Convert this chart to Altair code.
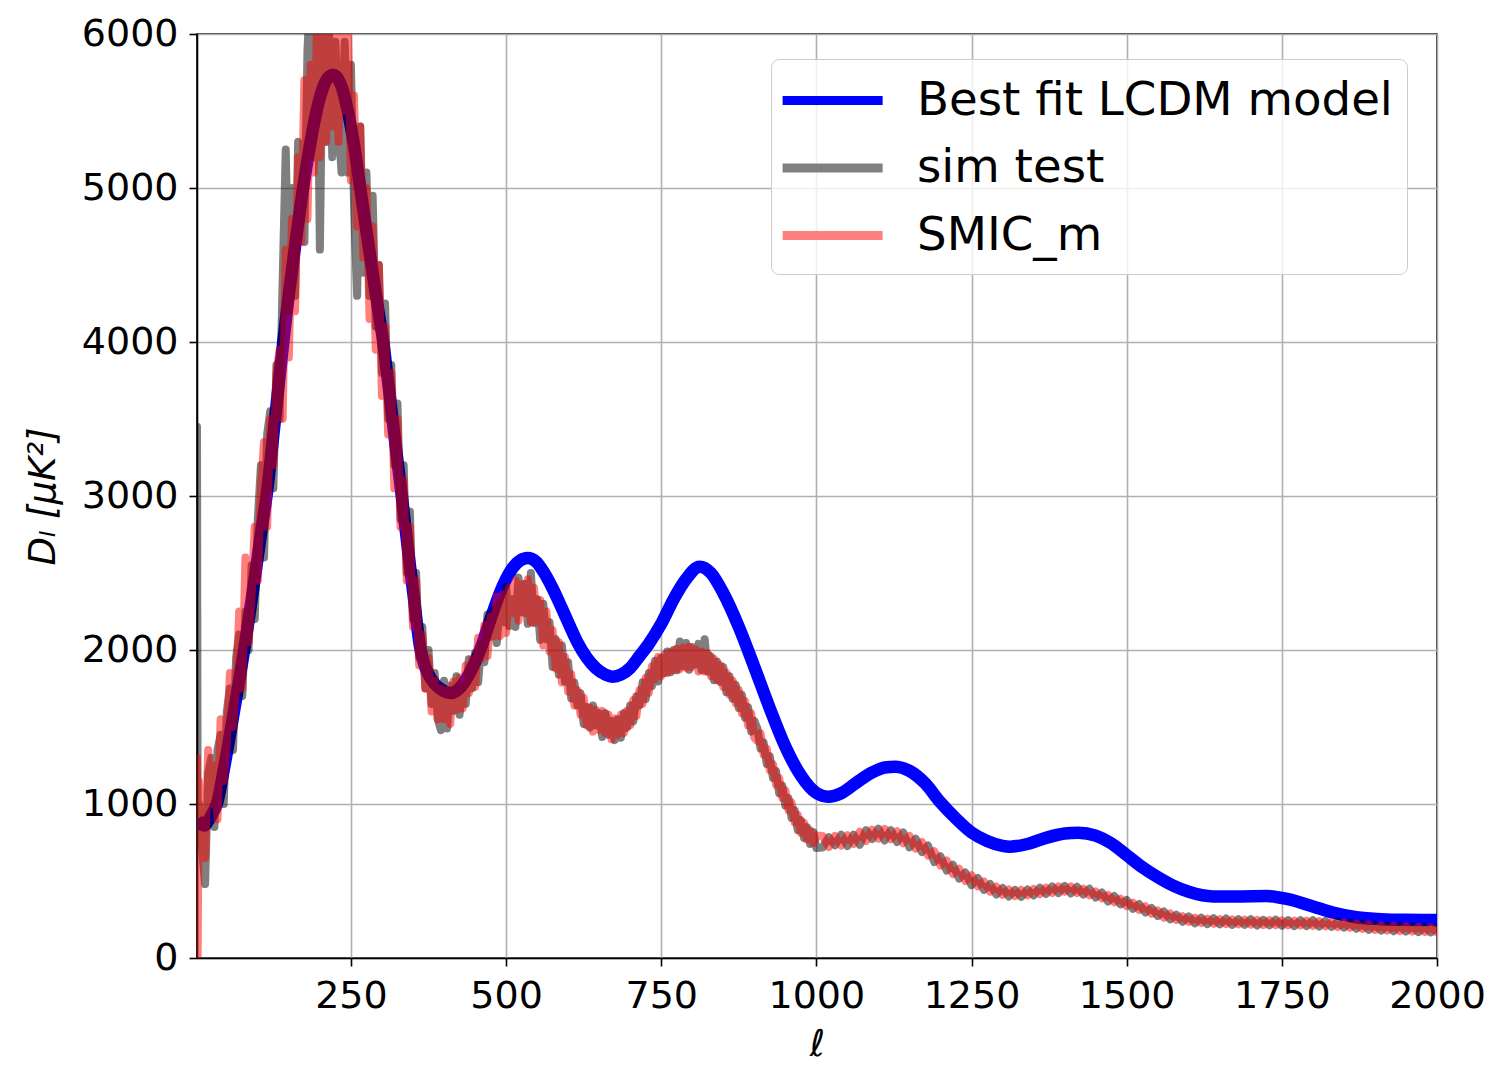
import altair as alt
import pandas as pd

# ---------------- data ----------------
series_names = ["Best fit LCDM model", "sim test", "SMIC_m"]

ell_model = [2, 8, 14, 20, 27, 34, 45, 56, 67, 78, 88, 98, 106, 114, 123, 132, 141, 150,
             160, 173, 185, 197, 209, 221, 233, 245, 255, 265, 275, 285, 294, 302, 312,
             322, 332, 342, 352, 361, 368, 374, 385, 395, 405, 412, 420, 430, 440, 450,
             460, 470, 480, 490, 500, 510, 522, 535, 548, 560, 575, 590, 600, 615, 630,
             645, 660, 672, 685, 700, 715, 730, 750, 770, 790, 812, 830, 850, 875, 900,
             925, 950, 975, 1000, 1019, 1040, 1065, 1090, 1110, 1127, 1150, 1175, 1200,
             1225, 1250, 1275, 1300, 1312, 1340, 1370, 1400, 1422, 1450, 1475, 1500,
             1525, 1550, 1575, 1600, 1639, 1680, 1726, 1760, 1800, 1832, 1870, 1910,
             1950, 2000]
D_model = [900, 870, 860, 890, 940, 1000, 1220, 1470, 1730, 2000, 2270, 2550, 2780, 3000,
           3320, 3660, 4000, 4310, 4620, 5000, 5300, 5540, 5690, 5735, 5680, 5500, 5280,
           5000, 4720, 4450, 4210, 4000, 3670, 3330, 3000, 2650, 2320, 2030, 1910, 1850,
           1780, 1745, 1725, 1720, 1735, 1775, 1840, 1920, 2020, 2140, 2260, 2370, 2460,
           2530, 2580, 2597, 2575, 2510, 2400, 2270, 2180, 2050, 1950, 1880, 1840, 1827,
           1840, 1883, 1960, 2040, 2170, 2330, 2460, 2541, 2500, 2370, 2150, 1890, 1620,
           1372, 1185, 1071, 1047, 1070, 1140, 1205, 1237, 1242, 1215, 1135, 1010, 905,
           815, 760, 728, 723, 740, 780, 808, 814, 795, 745, 668, 590, 525, 470, 430, 400,
           400, 402, 382, 335, 295, 265, 252, 248, 247]

# multipole grid of the two noisy spectra
ell_data = [2, 3] + list(range(5, 1001, 5)) + list(range(1010, 2001, 10))

D_sim = [3450, 900,
         # 5 .. 400
         1000, 720, 480, 1200, 1300, 850, 1350, 1450, 1000, 1600,
         1750, 1350, 1950, 2100, 1700, 2250, 2000, 2550, 2200, 2850,
         3200, 2600, 3400, 3550, 3050, 3850, 3500, 4400, 5250, 4200,
         5000, 4300, 5300, 5250, 4650, 5900, 6300, 5200, 6400, 4600,
         6200, 5300, 6000, 5200, 5950, 5400, 5100, 5950, 5100, 5800,
         4900, 4300, 5400, 4450, 5100, 4300, 4950, 4100, 4500, 3800,
         4250, 3500, 3850, 3200, 3600, 2850, 3200, 2500, 2900, 2200,
         2500, 1950, 2150, 1750, 2000, 1650, 1850, 1550, 1480, 1800,
         # 405 .. 600
         1490, 1770, 1605, 1830, 1580, 1760, 1650, 1940, 1750, 1980,
         1790, 2040, 1920, 2230, 2085, 2270, 2045, 2310, 2180, 2410,
         2155, 2330, 2150, 2470, 2245, 2430, 2170, 2500, 2175, 2330,
         2065, 2300, 2070, 2180, 1890, 2070, 1840, 2030, 1795, 1920,
         # 605 .. 900
         1685, 1790, 1640, 1720, 1520, 1630, 1495, 1640, 1510, 1590,
         1435, 1590, 1450, 1540, 1415, 1550, 1430, 1590, 1495, 1640,
         1535, 1700, 1640, 1790, 1680, 1850, 1765, 1930, 1795, 1950,
         1850, 1990, 1855, 2000, 1868, 2055, 1895, 2045, 1872, 2020,
         1905, 2040, 1870, 2070, 1860, 1960, 1803, 1925, 1793, 1890,
         1725, 1830, 1683, 1775, 1623, 1710, 1560, 1630, 1470, 1540,
         # 905 .. 1000
         1490, 1360, 1400, 1260, 1310, 1170, 1215, 1070, 1120, 990,
         1040, 910, 960, 830, 895, 780, 850, 740, 818, 715,
         # 1010 .. 2000
         717, 785, 732, 800, 727, 800, 735, 830, 773, 840,
         763, 830, 753, 815, 718, 775, 688, 730, 623, 660,
         568, 605, 515, 555, 473, 520, 442, 480, 412, 455,
         400, 442, 397, 445, 406, 457, 416, 465, 422, 468,
         419, 462, 412, 450, 393, 425, 367, 402, 348, 377,
         320, 350, 296, 325, 272, 302, 251, 282, 236, 270,
         226, 261, 220, 258, 219, 256, 215, 252, 215, 252,
         211, 248, 212, 249, 210, 246, 207, 245, 208, 245,
         204, 240, 202, 235, 197, 230, 190, 223, 183, 216,
         178, 212, 174, 209, 172, 206, 168, 203, 166, 200]

D_smic = [1300, 0,
          # 5 .. 400
          1150, 800, 650, 1350, 1000, 1250, 900, 1550, 1150, 1400,
          1850, 1500, 1750, 2250, 1750, 2600, 2050, 2350, 2800, 2450,
          3050, 3350, 2800, 3500, 3200, 3800, 3950, 3500, 4600, 3900,
          4800, 4200, 5200, 4650, 5700, 4800, 5800, 5100, 6000, 5200,
          6300, 5300, 6400, 5400, 6350, 5300, 6200, 5500, 6100, 5050,
          5600, 4750, 5400, 4550, 5000, 4150, 4750, 3950, 4500, 3650,
          4100, 3400, 3800, 3050, 3500, 2800, 3100, 2450, 2800, 2150,
          2450, 1900, 2100, 1750, 1950, 1600, 1800, 1550, 1750, 1550,
          # 405 .. 600
          1740, 1520, 1795, 1610, 1820, 1620, 1900, 1720, 1940, 1760,
          2080, 1940, 2160, 1960, 2215, 2090, 2345, 2090, 2360, 2110,
          2405, 2240, 2450, 2190, 2425, 2240, 2460, 2180, 2405, 2180,
          2325, 2030, 2250, 1990, 2130, 1880, 2050, 1790, 1955, 1730,
          # 605 .. 900
          1845, 1640, 1740, 1580, 1690, 1510, 1625, 1470, 1610, 1480,
          1605, 1460, 1580, 1420, 1555, 1450, 1580, 1460, 1605, 1510,
          1675, 1570, 1740, 1650, 1820, 1720, 1895, 1810, 1955, 1830,
          1970, 1850, 1985, 1870, 2008, 1875, 2015, 1885, 2022, 1890,
          2005, 1860, 1990, 1860, 1980, 1830, 1943, 1805, 1903, 1760,
          1855, 1710, 1803, 1655, 1743, 1590, 1670, 1510, 1590, 1430,
          # 905 .. 1000
          1410, 1460, 1320, 1360, 1220, 1260, 1125, 1170, 1040, 1090,
          960, 1010, 880, 930, 815, 880, 770, 830, 748, 795,
          # 1010 .. 2000
          792, 720, 792, 730, 797, 740, 820, 760, 833, 775,
          838, 770, 823, 745, 793, 710, 753, 665, 693, 600,
          633, 545, 580, 500, 538, 465, 497, 430, 464, 410,
          445, 402, 442, 407, 448, 414, 456, 422, 464, 430,
          464, 422, 450, 407, 433, 387, 410, 362, 386, 337,
          360, 312, 336, 287, 310, 262, 289, 246, 272, 234,
          262, 227, 256, 222, 253, 220, 251, 218, 249, 216,
          247, 214, 246, 213, 244, 212, 243, 211, 242, 209,
          240, 206, 236, 201, 231, 196, 224, 189, 217, 182,
          212, 178, 208, 175, 206, 172, 202, 169, 200, 166]

x_ticks = [250, 500, 750, 1000, 1250, 1500, 1750, 2000]
y_ticks = [0, 1000, 2000, 3000, 4000, 5000, 6000]

model_df = pd.DataFrame({"ell": ell_model, "D": D_model, "series": series_names[0]})
sim_df = pd.DataFrame({"ell": ell_data, "D": D_sim, "series": series_names[1]})
smic_df = pd.DataFrame({"ell": ell_data, "D": D_smic, "series": series_names[2]})

FONT = "DejaVu Sans"

x_enc = alt.X("ell:Q",
              scale=alt.Scale(domain=[2, 2000], nice=False, zero=False),
              axis=alt.Axis(values=x_ticks, format="d", labelOverlap=False, labelFlush=False,
                            title="ℓ", titleFontStyle="italic",
                            titlePadding=11, labelPadding=11))
y_enc = alt.Y("D:Q",
              scale=alt.Scale(domain=[0, 6000], nice=False, zero=False),
              axis=alt.Axis(values=y_ticks, format="d", labelOverlap=False, labelFlush=False,
                            title="Dₗ [μK²]", titleFontStyle="italic",
                            titlePadding=19, labelPadding=11))

model = alt.Chart(model_df).mark_line(
    strokeWidth=12.5, interpolate="monotone", clip=True
).encode(
    x=x_enc, y=y_enc,
    color=alt.Color("series:N",
                    scale=alt.Scale(domain=series_names,
                                    range=["#0000ff", "#808080", "#ff8080"]),
                    legend=alt.Legend(
                        orient="none", legendX=574, legendY=25, title=None,
                        labelFont=FONT, labelFontSize=46.7, labelColor="black",
                        labelLimit=1000, labelOffset=77,
                        symbolType="M-1.3,0L3.05,0", symbolSize=2116,
                        symbolStrokeWidth=9, rowPadding=15.5, padding=14,
                        fillColor="rgba(255,255,255,0.8)", strokeColor="#cccccc",
                        cornerRadius=8)),
)

sim = alt.Chart(sim_df).mark_line(
    color="black", opacity=0.5, strokeWidth=8, strokeJoin="round", strokeCap="round", clip=True
).encode(x=x_enc, y=y_enc)

smic = alt.Chart(smic_df).mark_line(
    color="red", opacity=0.5, strokeWidth=8, strokeJoin="round", strokeCap="round", clip=True
).encode(x=x_enc, y=y_enc)

chart = alt.layer(model, sim, smic).properties(
    width=1240, height=924,
    padding={"left": 189, "top": 26, "right": 61, "bottom": 115},
    autosize=alt.AutoSizeParams(type="none"),
).configure_view(
    stroke="black", strokeWidth=1.6
).configure_axis(
    labelFont=FONT, labelFontSize=38, labelColor="black",
    titleFont=FONT, titleFontSize=37, titleFontWeight="normal", titleColor="black",
    domainColor="black", domainWidth=1.6,
    tickColor="black", tickWidth=1.6, tickSize=8,
    grid=True, gridColor="#b0b0b0", gridWidth=1.6,
)

chart.save("out.html", embed_options={"renderer": "svg", "actions": False})
